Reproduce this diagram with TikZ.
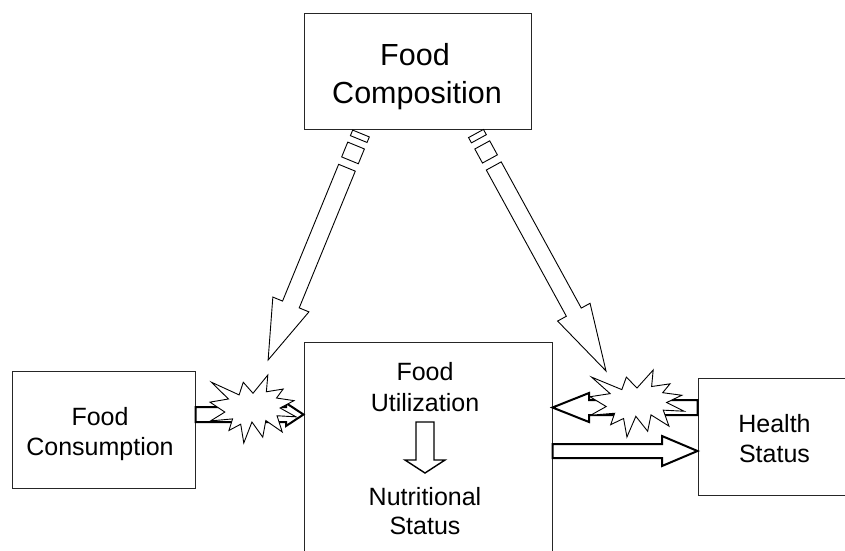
\documentclass[tikz,border=0pt]{standalone}
\usepackage{fontspec}
\setmainfont{Liberation Sans}
\usetikzlibrary{calc}
\tikzset{
  box/.style={draw=black!85, line width=1pt, fill=white, inner sep=0pt},
  lbl/.style={anchor=base, inner sep=0pt, font=\fontsize{25}{30}\selectfont},
  biglbl/.style={anchor=base, inner sep=0pt, font=\fontsize{30.5}{37}\selectfont},
  diagarrow/.style={draw=black, line width=0.9pt, fill=white, line join=miter},
  harrow/.style={draw=black, line width=2pt, fill=white, line join=miter},
  varrow/.style={draw=black, line width=1.4pt, fill=white, line join=miter},
  burst/.style={draw=black, line width=0.9pt, fill=white, line join=miter},
}
% #1 tail coordinate, #2 angle, #3 length, #4 half shaft, #5 half head, #6 head length
\newcommand{\stripedarrow}[6]{%
  \begin{scope}[shift={#1}, rotate=#2]
    \draw[diagarrow] (0,-#4) rectangle (6,#4);
    \draw[diagarrow] (13,-#4) rectangle (29,#4);
    \draw[diagarrow] (37,-#4) -- ({#3-#6},-#4) -- ({#3-#6},-#5) -- (#3,0)
       -- ({#3-#6},#5) -- ({#3-#6},#4) -- (37,#4) -- cycle;
  \end{scope}}
% #1 left, #2 top, #3 width, #4 height
\newcommand{\explosion}[4]{%
  \begin{scope}[shift={(#1,#2)}, xscale=#3/216, yscale=#4/216]
    \draw[burst] (108,58) -- (145.22,0) -- (141.55,53.25) -- (183.80,44.57)
      -- (167.02,73.15) -- (210.97,81.37) -- (176.07,104.75) -- (216,132.90)
      -- (168.37,129.42) -- (181.45,180.95) -- (140.20,144.57) -- (132.47,197.37)
      -- (105.32,149.35) -- (84.85,216) -- (77.15,156.27) -- (47.62,176.17)
      -- (56.67,139.37) -- (1.35,145.87) -- (37.22,117.75) -- (0,86.15)
      -- (46.27,76.17) -- (3.70,22.95) -- (73.12,63.20) -- (83.52,22.95) -- cycle;
  \end{scope}}
\begin{document}
\begin{tikzpicture}[x=1pt,y=-1pt]
\useasboundingbox (0,0) rectangle (845,550);
\clip (0,0) rectangle (845,550);

% boxes
\node[box, minimum width=227pt, minimum height=116pt] (comp) at (417.5,71) {};
\node[box, minimum width=183pt, minimum height=117pt] (cons) at (103.5,429.5) {};
\node[box, minimum width=248pt, minimum height=258pt] (util) at (428,471) {};
\node[box, minimum width=153pt, minimum height=117pt] (health) at (774.5,436.5) {};

% labels
\node[biglbl] (compA) at (415,65) {Food};
\node[biglbl] (compB) at (417,103) {Composition};
\node[lbl] (consA) at (100,425) {Food};
\node[lbl] (consB) at (100,455) {Consumption};
\node[lbl] (utilA) at (425,380) {Food};
\node[lbl] (utilB) at (425,411) {Utilization};
\node[lbl] (nutA) at (425,505) {Nutritional};
\node[lbl] (nutB) at (425,534) {Status};
\node[lbl] (healthA) at (774.5,432) {Health};
\node[lbl] (healthB) at (774.5,462) {Status};

% internal down arrow
\coordinate (dtop) at (425,422);
\coordinate (dtip) at (425,473);
\draw[varrow] ($(dtop)+(-9,0)$) -- ($(dtop)+(9,0)$) -- ($(dtop)+(9,38)$) -- ($(dtop)+(20,38)$)
  -- (dtip) -- ($(dtop)+(-20,38)$) -- ($(dtop)+(-9,38)$) -- cycle;

% striped diagonal arrows from Food Composition
\coordinate (ltail) at (361,133.5);
\coordinate (rtail) at (476,133.5);
\stripedarrow{(ltail)}{-112.3}{244.8}{9}{19.5}{60}
\stripedarrow{(rtail)}{-61.3}{270.7}{8.5}{18.5}{67}

% horizontal arrows
\draw[harrow] (cons.east |- 0,407) -- (286,407) -- (286,403) -- (util.west |- 0,414.5)
  -- (286,426) -- (286,422) -- (cons.east |- 0,422) -- cycle;
\draw[harrow] (health.west |- 0,400) -- (589,400) -- (589,393) -- (util.east |- 0,407.5)
  -- (589,422) -- (589,415) -- (health.west |- 0,415) -- cycle;
\draw[harrow] (util.east |- 0,444) -- (662,444) -- (662,436) -- (health.west |- 0,451)
  -- (662,466) -- (662,458) -- (util.east |- 0,458) -- cycle;

% explosions
\explosion{210}{375}{86}{68}
\explosion{590}{370}{94}{67}
\end{tikzpicture}
\end{document}
